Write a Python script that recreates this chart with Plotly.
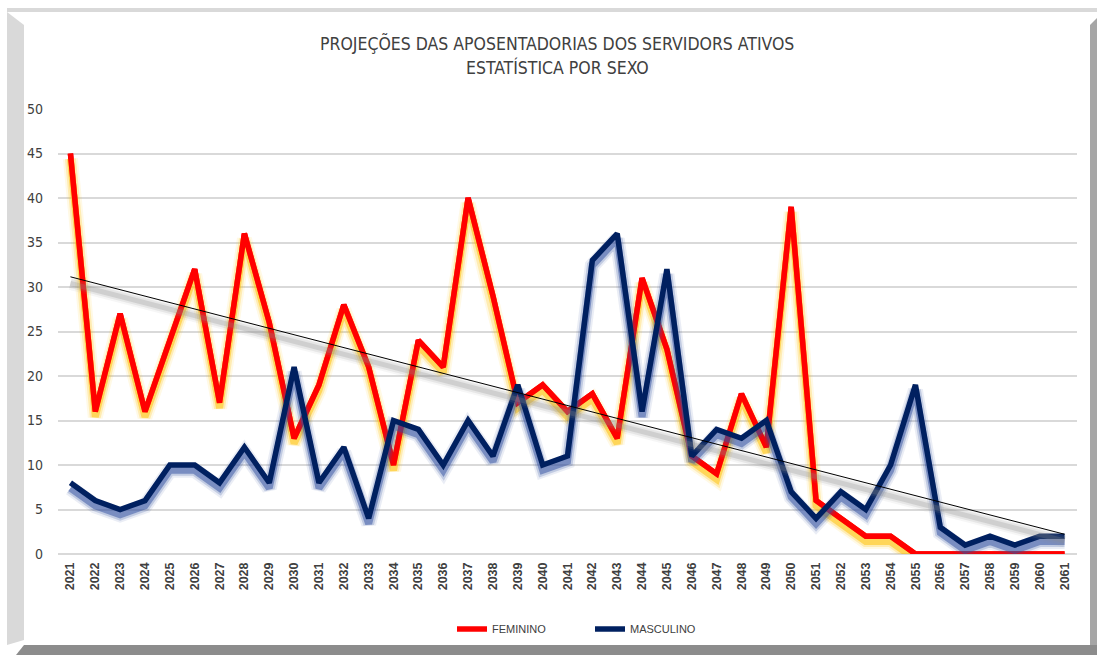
import numpy as np
import plotly.graph_objects as go

years = list(range(2021, 2062))
year_labels = [str(y) for y in years]
feminino = [45, 16, 27, 16, 24, 32, 17, 36, 26, 13,
            19, 28, 21, 10, 24, 21, 40, 29, 17, 19,
            16, 18, 13, 31, 23, 11, 9, 18, 12, 39,
            6, 4, 2, 2, 0, 0, 0, 0, 0, 0, 0]
masculino = [8, 6, 5, 6, 10, 10, 8, 12, 8, 21,
             8, 12, 4, 15, 14, 10, 15, 11, 19, 10,
             11, 33, 36, 16, 32, 11, 14, 13, 15, 7,
             4, 7, 5, 10, 19, 3, 1, 2, 1, 2, 2]
y_ticks = [0, 5, 10, 15, 20, 25, 30, 35, 40, 45, 50]

# linear trendline of FEMININO (as Excel computes it)
coef = np.polyfit(np.array(years, dtype=float), np.array(feminino, dtype=float), 1)
trend = list(np.polyval(coef, np.array(years, dtype=float)))

W, H = 1097, 655
L, R, T, B = 58, 20, 109, 101
PW, PH = W - L - R, H - T - B

def px(x):
    return (x - L) / PW

def py(y):
    return (H - B - y) / PH

NARROW = "Liberation Sans Narrow, DejaVu Sans Condensed, Arial Narrow, sans-serif"
TXT = "#404040"

fig = go.Figure()

def glow(y, rgb, axis, layers):
    for w, a in layers:
        fig.add_trace(go.Scatter(x=years, y=y, yaxis=axis, mode="lines",
                                 line=dict(color=f"rgba({rgb},{a})", width=w),
                                 hoverinfo="skip", showlegend=False))

# FEMININO (base on the main axis, carries the legend entry)
fig.add_trace(go.Scatter(x=years, y=feminino, name="FEMININO", mode="lines", yaxis="y",
                         line=dict(color="#FF0000", width=5.5)))
glow(feminino, "255,192,0", "y2", [(15, 0.10), (11, 0.22), (7, 0.5)])
fig.add_trace(go.Scatter(x=years, y=feminino, mode="lines", yaxis="y3", showlegend=False,
                         line=dict(color="#FF0000", width=5.5)))
# MASCULINO with blue glow
glow(masculino, "50,80,160", "y4", [(15, 0.10), (11, 0.22), (7, 0.5)])
fig.add_trace(go.Scatter(x=years, y=masculino, name="MASCULINO", mode="lines", yaxis="y5",
                         line=dict(color="#002060", width=5.5)))
# trendline with gray shadow
glow(trend, "140,140,140", "y6", [(13, 0.08), (9, 0.15), (5, 0.25)])
fig.add_trace(go.Scatter(x=years, y=trend, mode="lines", showlegend=False, yaxis="y7",
                         line=dict(color="#000000", width=1), hoverinfo="skip"))

# frame (bevel border)
shapes = [
    dict(type="rect", x0=px(7), x1=px(1097), y0=py(8), y1=py(12),
         fillcolor="#D9D9D9", line_width=0),
    dict(type="path",
         path=f"M {px(7)} {py(12)} L {px(24)} {py(25)} L {px(24)} {py(640)} L {px(7)} {py(645)} Z",
         fillcolor="#D9D9D9", line_width=0),
    dict(type="path",
         path=f"M {px(1090)} {py(25)} L {px(1097)} {py(18)} L {px(1097)} {py(655)} L {px(1090)} {py(655)} Z",
         fillcolor="#A6A6A6", line_width=0),
    dict(type="path",
         path=f"M {px(24)} {py(645)} L {px(1097)} {py(645)} L {px(1097)} {py(655)} L {px(16)} {py(655)} Z",
         fillcolor="#8C8C8C", line_width=0),
]
for s in shapes:
    s.update(xref="paper", yref="paper", layer="below")

annotations = [
    dict(text="PROJEÇÕES DAS APOSENTADORIAS DOS SERVIDORS ATIVOS", x=px(557), y=py(43),
         xref="paper", yref="paper", showarrow=False, xanchor="center", yanchor="middle",
         font=dict(family=NARROW, size=17.5, color=TXT)),
    dict(text="ESTATÍSTICA POR SEXO", x=px(557), y=py(68),
         xref="paper", yref="paper", showarrow=False, xanchor="center", yanchor="middle",
         font=dict(family=NARROW, size=17.5, color=TXT)),
]

def overlay(shift):
    return dict(range=[shift, 50 + shift], overlaying="y", visible=False, fixedrange=True)

fig.update_layout(
    width=W, height=H,
    margin=dict(l=L, r=R, t=T, b=B, pad=0),
    paper_bgcolor="white", plot_bgcolor="white",
    shapes=shapes, annotations=annotations,
    showlegend=True,
    legend=dict(orientation="h", x=px(452), y=py(629), xanchor="left", yanchor="middle",
                font=dict(family="Liberation Sans, Arial, sans-serif", size=11, color=TXT),
                entrywidth=93, entrywidthmode="pixels", bgcolor="rgba(0,0,0,0)"),
    xaxis=dict(range=[2020.5, 2061.5], tickmode="array", tickvals=years, ticktext=year_labels,
               tickangle=-90, showgrid=False, zeroline=False, showline=False, ticks="",
               ticklabelstandoff=5,
               tickfont=dict(family="Liberation Sans, Arial, sans-serif", size=12.5, color=TXT,
                             weight="bold"),
               fixedrange=True),
    yaxis=dict(range=[0, 50], tickmode="array", tickvals=y_ticks, showgrid=True,
               gridcolor="#D9D9D9", gridwidth=2, zeroline=True, zerolinecolor="#D9D9D9",
               zerolinewidth=2, showline=False, ticks="", ticklabelstandoff=14,
               tickfont=dict(family=NARROW, size=14, color=TXT), fixedrange=True),
    yaxis2=overlay(0.6),
    yaxis3=overlay(0.0),
    yaxis4=overlay(0.6),
    yaxis5=overlay(0.0),
    yaxis6=overlay(0.75),
    yaxis7=overlay(0.0),
)

fig.write_html("out.html", config={"displayModeBar": False},
               post_script="document.body.style.margin='0';document.body.style.overflow='hidden';")
